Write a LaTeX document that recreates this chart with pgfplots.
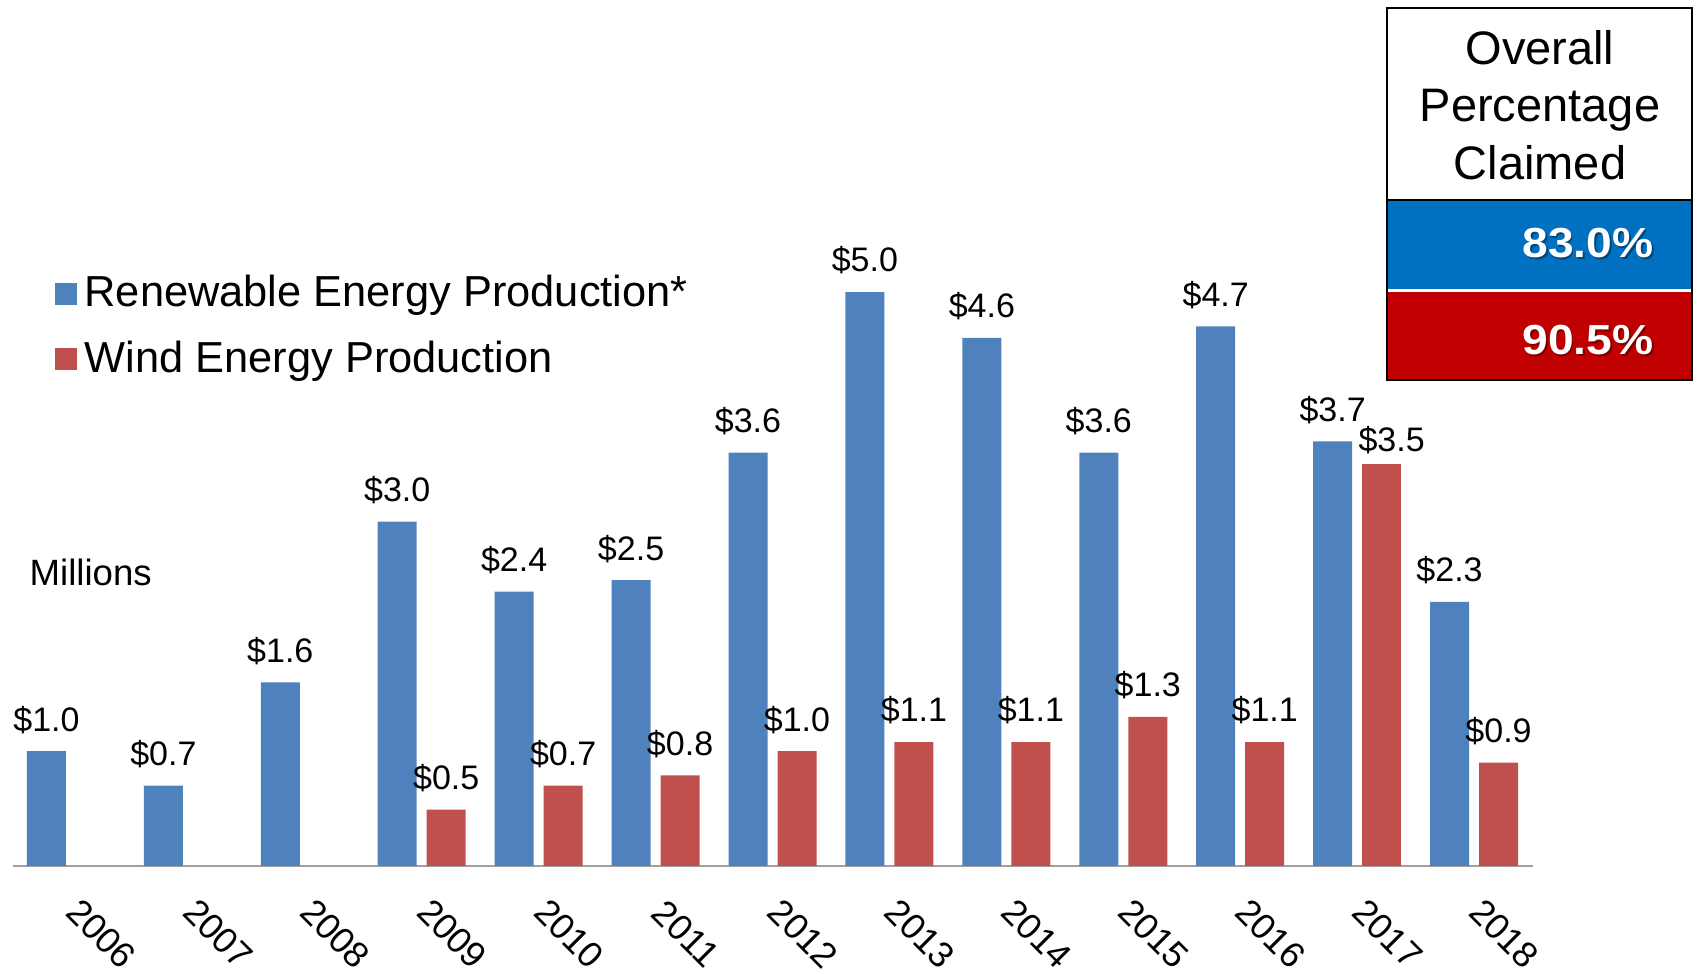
\documentclass[border=0pt]{standalone}
\usepackage{fontspec}
\setmainfont{Liberation Sans}
\newfontfamily\pctfont[FakeStretch=1.1]{Liberation Sans}
\usepackage{pgfplots}
\pgfplotsset{compat=1.18}
\definecolor{barblue}{HTML}{4F81BD}
\definecolor{barred}{HTML}{C0504D}
\definecolor{boxblue}{HTML}{0070C0}
\definecolor{boxred}{HTML}{C00000}
\definecolor{axisgray}{HTML}{A0A0A0}
\begin{document}
\begin{tikzpicture}
\begin{axis}[
  at={(6.25pt,54pt)}, anchor=south west,
  width=760pt, height=419pt, scale only axis,
  xmin=-0.5, xmax=12.5, ymin=0, ymax=7.3,
  axis x line*=bottom, axis y line=none,
  x axis line style={draw=axisgray, line width=1pt},
  xtick={0,1,2,3,4,5,6,7,8,9,10,11,12},
  xticklabels={2006,2007,2008,2009,2010,2011,2012,2013,2014,2015,2016,2017,2018},
  xtick style={draw=none},
  xticklabel style={xshift=15.25pt, yshift=-34pt, rotate=-45, anchor=center, inner sep=0pt, font=\fontsize{18}{21}\selectfont},
  /pgf/number format/assume math mode=true,
  clip=false,
  legend style={at={(0.028,0.7049)}, anchor=north west, draw=none, fill=none,
    inner sep=0pt, outer sep=0pt, row sep=12.6pt, column sep=3.8pt,
    nodes={inner sep=0pt, text depth=}, cells={anchor=base west},
    font=\fontsize{21.7}{25}\selectfont},
  legend image code/.code={\fill[#1] (0pt,1pt) rectangle (11pt,12pt);},
  nodes near coords={\$\pgfmathprintnumber[fixed,fixed zerofill,precision=1]{\pgfplotspointmeta}},
  every node near coord/.append style={font=\fontsize{17}{20}\selectfont, anchor=south, yshift=8.7pt, inner sep=0pt, text=black},
]
\addplot[ybar, bar width=19.5pt, bar shift=-12.25pt, fill=barblue, draw=none,
  every node near coord/.append style={xshift=-12.25pt}]
  coordinates {(0,1.0)(1,0.7)(2,1.6)(3,3.0)(4,2.39)(5,2.49)(6,3.6)(7,5.0)(8,4.6)(9,3.6)(10,4.7)(11,3.7)(12,2.3)};
\addlegendentry{Renewable Energy Production*}
\addplot[ybar, bar width=19.5pt, bar shift=12.25pt, fill=barred, draw=none,
  every node near coord/.append style={xshift=12.25pt}]
  coordinates {(3,0.49)(4,0.7)(5,0.79)(6,1.0)(7,1.08)(8,1.08)(9,1.3)(10,1.08)(12,0.9)};
\addlegendentry{Wind Energy Production}
\addplot[ybar, bar width=19.5pt, bar shift=12.25pt, fill=barred, draw=none, forget plot,
  every node near coord/.append style={xshift=17.25pt, yshift=-3.5pt}]
  coordinates {(11,3.5)};
\end{axis}
\node[anchor=base west, inner sep=0pt, font=\fontsize{18.3}{22}\selectfont] at (14.65pt,194pt) {Millions};
% summary box
\fill[white] (693.5pt,387pt) rectangle (846pt,483pt);
\fill[boxblue] (693.5pt,342.5pt) rectangle (846pt,387pt);
\fill[boxred] (693.5pt,297pt) rectangle (846pt,341pt);
\draw[black, line width=1pt] (693.5pt,387pt) -- (846pt,387pt);
\draw[black, line width=1.2pt] (693.5pt,297pt) rectangle (846pt,483pt);
\node[anchor=base, inner sep=0pt, font=\fontsize{23.5}{27}\selectfont] at (770pt,454.5pt) {Overall};
\node[anchor=base, inner sep=0pt, font=\fontsize{23.5}{27}\selectfont] at (770pt,426pt) {Percentage};
\node[anchor=base, inner sep=0pt, font=\fontsize{23.5}{27}\selectfont] at (770pt,397pt) {Claimed};
\node[anchor=base east, inner sep=0pt, text=black, opacity=0.35, font=\pctfont\bfseries\fontsize{21}{24}\selectfont] at (827.8pt,357.2pt) {83.0\%};
\node[anchor=base east, inner sep=0pt, text=white, font=\pctfont\bfseries\fontsize{21}{24}\selectfont] at (827pt,358pt) {83.0\%};
\node[anchor=base east, inner sep=0pt, text=black, opacity=0.35, font=\pctfont\bfseries\fontsize{21}{24}\selectfont] at (827.8pt,308.7pt) {90.5\%};
\node[anchor=base east, inner sep=0pt, text=white, font=\pctfont\bfseries\fontsize{21}{24}\selectfont] at (827pt,309.5pt) {90.5\%};
\pgfresetboundingbox
\path[use as bounding box] (0pt,0pt) rectangle (848.5pt,487pt);
\end{tikzpicture}
\end{document}
